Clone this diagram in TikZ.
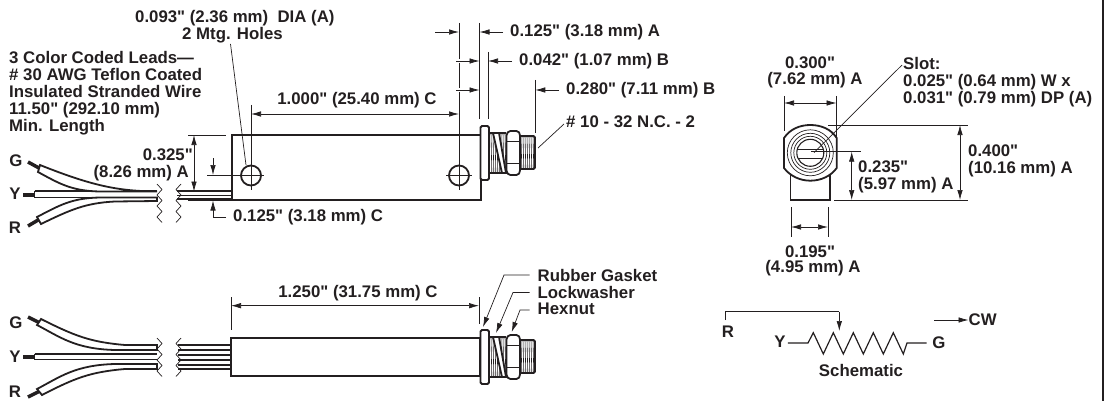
\documentclass[tikz,border=0pt]{standalone}
\usepackage{fontspec}
\newfontfamily\lblfont{Liberation Sans}
\usetikzlibrary{arrows.meta}
\definecolor{ink}{HTML}{231F20}
\tikzset{
    lbl/.style={inner sep=0pt, text=ink, font=\lblfont\bfseries\fontsize{16.8}{17}\selectfont, align=left},
    thin line/.style={draw=ink, line width=0.7pt},
    outline/.style={draw=ink, line width=1.8pt},
    dim/.style={thin line, >={Latex[length=10pt,width=5.5pt]}},
    nutpart/.pic={
        % threads first, then the parts on top
        \foreach \tx in {491,493,...,505} {\draw[draw=ink, line width=0.6pt] (\tx,-20) -- (\tx+0.8,20);}
        \foreach \tx in {521,523,...,534} {\draw[draw=ink, line width=0.6pt] (\tx,-17) -- (\tx+0.8,16);}
        \draw[outline] (489,-20) -- (506,-20) (489,20) -- (506,20);
        \draw[outline, rounded corners=1.5pt] (520,-17) -- (535,-17) -- (535,16) -- (520,16);
        \draw[outline, fill=white] (493,-20) -- (499,-20) -- (506,20) -- (502,20) -- cycle;
        \draw[outline, fill=white, rounded corners=1.5pt] (506.5,-19) -- (509,-22) -- (518,-22) -- (520,-19) -- (520,19) -- (518,22) -- (509,22) -- (506.5,19) -- cycle;
        \draw[outline] (506.5,-11.5) -- (520,-11.5) (506.5,10.5) -- (520,10.5);
        \draw[outline, fill=white, rounded corners=1.5pt] (480.5,-27) rectangle (489,27);
    },
    wirebreak/.pic={
        \draw[thin line] (0,0) -- (5,5.5) -- (0,11) -- (5,16.5) -- (0,22) -- (5,27.5) -- (0,33) -- (5,38.5);
    }
}
\begin{document}
\begin{tikzpicture}[x=1pt,y=-1pt]
    \useasboundingbox (0,0) rectangle (1110,401);
    \draw[draw=ink, line width=2.5pt] (1103,0) -- (1103,401);

    % top view, body and holes
    \draw[outline] (232,135) rectangle (481,200);
    \pic at (0,153) {nutpart};
    \draw[outline] (251,175.5) circle[radius=10];
    \draw[outline] (459,175.5) circle[radius=10];
    \draw[thin line] (207,175.5) -- (264,175.5);
    \draw[thin line] (446,175.5) -- (472,175.5);

    % top view, leads
    \fill[ink] (23,192.5) rectangle (35,196.5);
    \draw[outline] (34.5,191) -- (157,191) (34.5,197.5) -- (157,197.5) (34.5,191) -- (34.5,197.5);
    \draw[draw=ink, line width=3.5pt] (28,162) -- (39,168);
    \draw[draw=ink, line width=3.5pt] (28,226) -- (39,219.5);
    \draw[outline, fill=white] (38,172) .. controls (60,184) and (72,191) .. (100,191.5) -- (157,191.5) .. controls (120,191) and (95,187) .. (40,165) -- cycle;
    \draw[outline, fill=white] (37,217) .. controls (60,205) and (72,198) .. (100,197.5) -- (157,197.5) -- (157,201) -- (115,201.5) .. controls (85,203) and (70,210) .. (41,224) -- cycle;
    \draw[thin line] (177,195) -- (232,195);
    \draw[outline] (177,191) -- (232,191) (177,199) -- (232,199);
    \pic at (157,184) {wirebreak};
    \pic[xscale=-1] at (181,184) {wirebreak};

    % bottom view, body
    \draw[outline] (231,338) rectangle (480,376);
    \pic at (0,357) {nutpart};

    % bottom view, leads
    \fill[ink] (23,355) rectangle (35,359);
    \draw[outline] (34.5,354) -- (157,354) (34.5,359.5) -- (157,359.5) (34.5,354) -- (34.5,359.5);
    \draw[draw=ink, line width=3.5pt] (28,317) -- (39,322.5);
    \draw[draw=ink, line width=3.5pt] (28,397) -- (39,391.5);
    \draw[outline, fill=white] (37,325) .. controls (60,337) and (75,349) .. (115,350) -- (157,350) -- (157,345) -- (125,345) .. controls (90,342) and (75,336) .. (41,319) -- cycle;
    \draw[outline, fill=white] (37,389) .. controls (60,377) and (75,365) .. (115,364) -- (157,364) -- (157,369) -- (125,369) .. controls (90,372) and (75,378) .. (42,395) -- cycle;
    \foreach \ly in {345,350,355,360,365,369} {\draw[outline] (178,\ly) -- (231,\ly);}
    \pic at (157,338) {wirebreak};
    \pic[xscale=-1] at (181,338) {wirebreak};

    % end view
    \draw[outline] (790.5,172) -- (790.5,200) -- (830,200) -- (830,172);
    \draw[outline, fill=white] (784,138) .. controls (790,129) and (800,125) .. (810.3,125) .. controls (821,125) and (831,129) .. (836.7,138) -- (836.7,168) .. controls (831,176) and (821,180.7) .. (810.3,180.7) .. controls (800,180.7) and (790,176) .. (784,168) -- cycle;
    \foreach \rr in {23,19.5,16.5} {\draw[thin line] (810.3,152.8) circle[radius=\rr];}
    \draw[draw=ink, line width=1.1pt] (810.3,152.8) circle[radius=13.5];
    \draw[thin line] (798,149) -- (823,149) (798,158.3) -- (823,158.3);

    % labels
    \node[lbl, anchor=west] (diaone) at (135,18) {0.093" (2.36 mm)\ \ DIA (A)};
    \node[lbl, anchor=west] (diatwo) at (182,35) {2 Mtg. Holes};
    \node[lbl, anchor=north west] (leads) at (9,51) {3 Color Coded Leads—\\\# 30 AWG Teflon Coated\\Insulated Stranded Wire\\11.50" (292.10 mm)\\Min. Length};
    \node[lbl, anchor=east] (wd) at (193,155) {0.325"};
    \node[lbl, anchor=east] (wdmm) at (189,173) {(8.26 mm) A};
    \node[lbl, anchor=west] (wb) at (233,217) {0.125" (3.18 mm) C};
    \node[lbl] (cc) at (357,100) {1.000" (25.40 mm) C};
    \node[lbl, anchor=west] (la) at (510,32) {0.125" (3.18 mm) A};
    \node[lbl, anchor=west] (lb) at (519,61) {0.042" (1.07 mm) B};
    \node[lbl, anchor=west] (lc) at (566,90) {0.280" (7.11 mm) B};
    \node[lbl, anchor=west] (thrd) at (566,122) {\# 10 - 32 N.C. - 2};
    \node[lbl] (wtop) at (810,63) {0.300"};
    \node[lbl] (wtopmm) at (815,80.5) {(7.62 mm) A};
    \node[lbl, anchor=north west] (slot) at (903,57) {Slot:\\0.025" (0.64 mm) W x\\0.031" (0.79 mm) DP (A)};
    \node[lbl, anchor=north west] (tall) at (968,145) {0.400"\\(10.16 mm) A};
    \node[lbl, anchor=north west] (mid) at (858,161) {0.235"\\(5.97 mm) A};
    \node[lbl] (wfoot) at (810,251.5) {0.195"};
    \node[lbl] (wfootmm) at (813,268.5) {(4.95 mm) A};
    \node[lbl] (lenc) at (358,293) {1.250" (31.75 mm) C};
    \node[lbl, anchor=west] (gask) at (537.5,275) {Rubber Gasket};
    \node[lbl, anchor=west] (lockw) at (537.5,292) {Lockwasher};
    \node[lbl, anchor=west] (hexn) at (537.5,309) {Hexnut};
    \node[lbl] (gt) at (16,161) {G};
    \node[lbl] (yt) at (15,194) {Y};
    \node[lbl] (rt) at (15,228) {R};
    \node[lbl] (gb) at (16,323) {G};
    \node[lbl] (yb) at (15,357) {Y};
    \node[lbl] (rb) at (15,392) {R};
    \node[lbl] (rs) at (728,332) {R};
    \node[lbl] (ys) at (780,342) {Y};
    \node[lbl] (gs) at (939,343) {G};
    \node[lbl, anchor=west] (cw) at (968.5,320) {CW};
    \node[lbl] (schem) at (861,370) {Schematic};

    % leaders
    \coordinate (holea) at (246,165);
    \draw[thin line] (230.5,44) -- (holea);
    \coordinate (thrdend) at (538,148);
    \draw[thin line] (thrd.west) ++(-2,2) -- (thrdend);
    \coordinate (slotend) at (814,152.7);
    \draw[thin line] (slot.north west) ++(-1,8) -- (slotend);

    % top view dimensions
    \draw[thin line] (251,105) -- (251,190);
    \draw[thin line] (459,23) -- (459,59) (459,63) -- (459,88) (459,92) -- (459,190);
    \draw[thin line] (479.5,23) -- (479.5,119.5);
    \draw[thin line] (488,52) -- (488,119.5);
    \draw[thin line] (535.3,80) -- (535.3,133);
    \draw[dim,<->] (251,114) -- (459,114);
    \draw[dim,->] (435,32) -- (459,32);
    \draw[dim,->] (la.west) ++(-7,0) -- (479.5,32);
    \draw[dim,->] (456,61) -- (479.5,61);
    \draw[dim,->] (lb.west) ++(-7,0) -- (488,61);
    \draw[dim,->] (456,90) -- (479.5,90);
    \draw[dim,->] (lc.west) ++(-7,0) -- (535.3,90);
    \draw[thin line] (188,135) -- (226,135);
    \draw[thin line] (188,200) -- (232,200);
    \draw[dim,<->] (194,135) -- (194,191.5);
    \draw[dim,->] (213,158) -- (213,175);
    \draw[dim,->] (wb.west) ++(-7,0) -| (213,200.5);

    % end view dimensions
    \draw[thin line] (784,96) -- (784,131);
    \draw[thin line] (836.5,96) -- (836.5,139);
    \draw[dim,<->] (784,103) -- (836.5,103);
    \draw[thin line] (828,125) -- (968,125);
    \draw[thin line] (834,200) -- (968,200);
    \draw[dim,<->] (960,125) -- (960,200);
    \draw[thin line] (811,151.7) -- (861,151.7);
    \draw[dim,<->] (851.7,151.7) -- (851.7,200);
    \draw[thin line] (791,207) -- (791,237);
    \draw[thin line] (828,207) -- (828,237);
    \draw[dim,<->] (791,227) -- (828,227);

    % bottom view dimensions
    \draw[thin line] (231,297) -- (231,330);
    \draw[thin line] (479,297) -- (479,324);
    \draw[dim,<->] (231,305.7) -- (479,305.7);
    \draw[dim,->] (gask.west) ++(-8,0) -- (504,275) -- (483,327);
    \draw[dim,->] (lockw.west) ++(-8,0.5) -- (513,292.5) -- (496,333);
    \draw[dim,->] (hexn.west) ++(-8,1) -- (520,310) -- (511.7,332);

    % schematic
    \draw[thin line] (725,320) -- (725,311.7) -- (839.3,311.7);
    \draw[dim,->] (839.3,311.7) -- (839.3,331);
    \draw[draw=ink, line width=1.2pt] (ys.east) ++(2,1) -- (808,343) -- (813.3,332.7) -- (823.3,354) -- (833.3,332.7) -- (843.3,354) -- (853.3,332.7) -- (863.3,354) -- (873.3,332.7) -- (883.3,354) -- (893.3,332.7) -- (903.3,354) -- (907,343) -- (926.7,343);
    \draw[dim,->] (934,320) -- (cw.west);
\end{tikzpicture}
\end{document}
